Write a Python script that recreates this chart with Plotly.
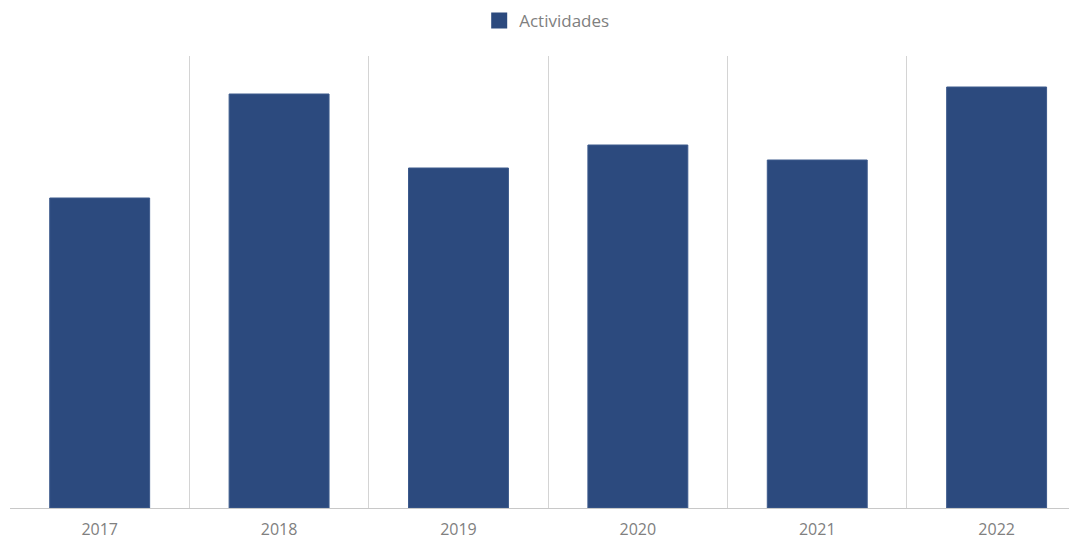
import plotly.graph_objects as go

years = ["2017", "2018", "2019", "2020", "2021", "2022"]
actividades = [310, 414, 340, 363, 348, 421]
series_name = "Actividades"
bar_color = "#2c4a7e"

fig = go.Figure()
fig.add_trace(go.Bar(
    x=years, y=actividades, name=series_name,
    marker=dict(color=bar_color, line=dict(color="#3d5a8c", width=1)),
    showlegend=False,
))
fig.add_trace(go.Scatter(
    x=[None], y=[None], mode="markers", name=series_name,
    marker=dict(symbol="square", size=16, color=bar_color),
    showlegend=True,
))

fig.update_layout(
    width=1069, height=532,
    margin=dict(l=2, r=0, t=48, b=32, autoexpand=False),
    paper_bgcolor="white", plot_bgcolor="white",
    bargap=0.443,
    font=dict(family="Open Sans, Noto Sans, sans-serif", color="#808080"),
    showlegend=True,
    legend=dict(orientation="h", x=0.503, xanchor="center", y=1.0774, yanchor="middle",
                font=dict(size=17, color="#808080"), itemwidth=30),
    xaxis=dict(
        type="category", range=[-0.5, 5.448],
        tickson="boundaries", showgrid=True, gridcolor="#d4d4d4", gridwidth=1,
        showline=True, linecolor="#c8c8c8", linewidth=1,
        ticks="outside", ticklen=13, tickcolor="rgba(0,0,0,0)",
        ticklabelstandoff=7,
        tickfont=dict(size=16, color="#808080"), automargin=False,
    ),
    yaxis=dict(range=[0, 452], showgrid=False, showticklabels=False, zeroline=False,
               showline=False, automargin=False),
)

fig.write_html("out.html")
